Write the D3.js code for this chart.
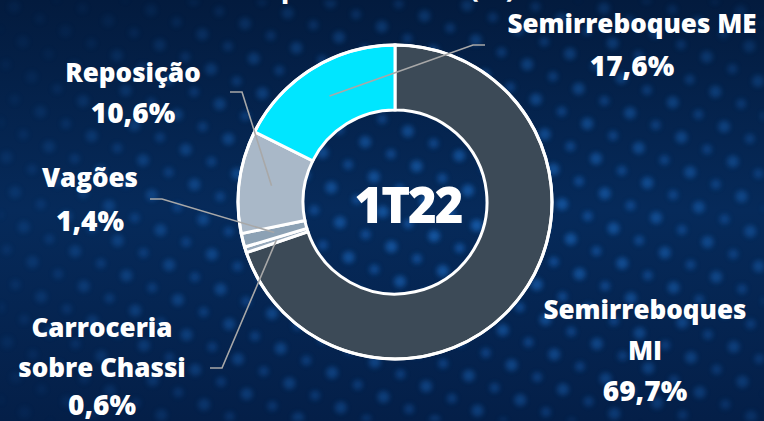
<!DOCTYPE html>
<html><head><meta charset="utf-8">
<script src="https://cdn.jsdelivr.net/npm/d3@7"></script>
<style>html,body{margin:0;padding:0;background:#05214a;overflow:hidden}</style>
</head><body><svg id="c" width="764" height="421"></svg>
<script>
// ---- data ----
const categories = ["Semirreboques MI", "Carroceria sobre Chassi", "Vagões", "Reposição", "Semirreboques ME"];
const values = [69.7, 0.6, 1.4, 10.6, 17.6];
const valueLabels = ["69,7%", "0,6%", "1,4%", "10,6%", "17,6%"];
const labelLines = [["Semirreboques", "MI"], ["Carroceria", "sobre Chassi"], ["Vagões"], ["Reposição"], ["Semirreboques ME"]];
const centerLabel = "1T22";
const title = "Receita Bruta por Produto (%)";

// ---- styling / layout ----
const colors = ["#3c4a57", "#97a9bb", "#8ca1b4", "#a9b8c8", "#00e6ff"];
const W = 764, H = 421, cx = 395, cy = 202, rOuter = 157, rInner = 92;
const FONT = "'Open Sans', sans-serif";
const labelLayout = [
  {x: 645, y: 319, gap: 41, leader: null},
  {x: 102, y: 337, gap: 40, leader: [[222, 368], [210, 368]]},
  {x: 90,  y: 187, gap: 44, leader: [[162, 199], [150, 199]]},
  {x: 133, y: 82,  gap: 41, leader: [[242, 92], [230, 92]]},
  {x: 632, y: 33,  gap: 43, leader: [[473, 45], [485, 45]]}
];

const svg = d3.select("#c");
const defs = svg.append("defs");
const bg = defs.append("linearGradient").attr("id", "bg").attr("x1", 0).attr("y1", 0).attr("x2", 0).attr("y2", 1);
bg.append("stop").attr("offset", 0).attr("stop-color", "#031b3e");
bg.append("stop").attr("offset", 0.5).attr("stop-color", "#062a5a");
bg.append("stop").attr("offset", 1).attr("stop-color", "#041f48");
svg.append("rect").attr("width", W).attr("height", H).attr("fill", "url(#bg)");

// decorative bokeh dots via pattern
const pat = defs.append("pattern").attr("id", "dots").attr("patternUnits", "userSpaceOnUse")
  .attr("width", 44).attr("height", 36).attr("patternTransform", "rotate(-14)");
pat.append("circle").attr("cx", 12).attr("cy", 10).attr("r", 6).attr("fill", "#1a6cc4");
pat.append("circle").attr("cx", 34).attr("cy", 28).attr("r", 5).attr("fill", "#1660b5");
defs.append("filter").attr("id", "blur").append("feGaussianBlur").attr("stdDeviation", 2.6);
const rg = defs.append("radialGradient").attr("id", "fade").attr("cx", 0.62).attr("cy", 0.55).attr("r", 0.7);
rg.append("stop").attr("offset", 0).attr("stop-color", "#fff").attr("stop-opacity", 0.8);
rg.append("stop").attr("offset", 0.7).attr("stop-color", "#fff").attr("stop-opacity", 0.4);
rg.append("stop").attr("offset", 1).attr("stop-color", "#fff").attr("stop-opacity", 0.1);
defs.append("mask").attr("id", "m").append("rect").attr("width", W).attr("height", H).attr("fill", "url(#fade)");
svg.append("g").attr("mask", "url(#m)").append("rect").attr("width", W).attr("height", H)
  .attr("fill", "url(#dots)").attr("filter", "url(#blur)").attr("opacity", 0.85);

// title (cut at top, as in reference)
svg.append("text").attr("x", 516).attr("y", -3).attr("text-anchor", "end")
  .attr("font-family", FONT).attr("font-weight", 700).attr("font-size", 30).attr("fill", "#fff").text(title);

// ---- donut ----
const pie = d3.pie().sort(null).value(d => d);
const arcs = pie(values);
const arc = d3.arc().innerRadius(rInner).outerRadius(rOuter);
const g = svg.append("g").attr("transform", `translate(${cx},${cy})`);
g.selectAll("path").data(arcs).join("path")
  .attr("d", arc).attr("fill", (d, i) => colors[i])
  .attr("stroke", "#fff").attr("stroke-width", 3).attr("stroke-linejoin", "miter");
g.append("circle").attr("r", rOuter).attr("fill", "none").attr("stroke", "#fff").attr("stroke-width", 3);

// leader lines
arcs.forEach((a, i) => {
  const L = labelLayout[i];
  if (!L.leader) return;
  const c = arc.centroid(a);
  const pts = [[cx + c[0], cy + c[1]], ...L.leader];
  svg.append("path").attr("d", d3.line()(pts)).attr("fill", "none")
    .attr("stroke", "#a8a8a8").attr("stroke-width", 1.6);
});

// center text
svg.append("text").attr("x", 408).attr("y", 223).attr("text-anchor", "middle")
  .attr("font-family", FONT).attr("font-weight", 800).attr("font-size", 49)
  .attr("letter-spacing", -2).attr("fill", "#fff").text(centerLabel);

// labels
categories.forEach((c, i) => {
  const L = labelLayout[i];
  const t = svg.append("g").attr("font-family", FONT).attr("font-weight", 800)
    .attr("fill", "#fff").attr("text-anchor", "middle");
  const lines = labelLines[i];
  lines.forEach((ln, j) => {
    t.append("text").attr("x", L.x).attr("y", L.y + j * L.gap).attr("font-size", 26).text(ln);
  });
  t.append("text").attr("x", L.x).attr("y", L.y + lines.length * L.gap - (i === 1 ? 2 : 0))
    .attr("font-size", 28).text(valueLabels[i]);
});
</script></body></html>
